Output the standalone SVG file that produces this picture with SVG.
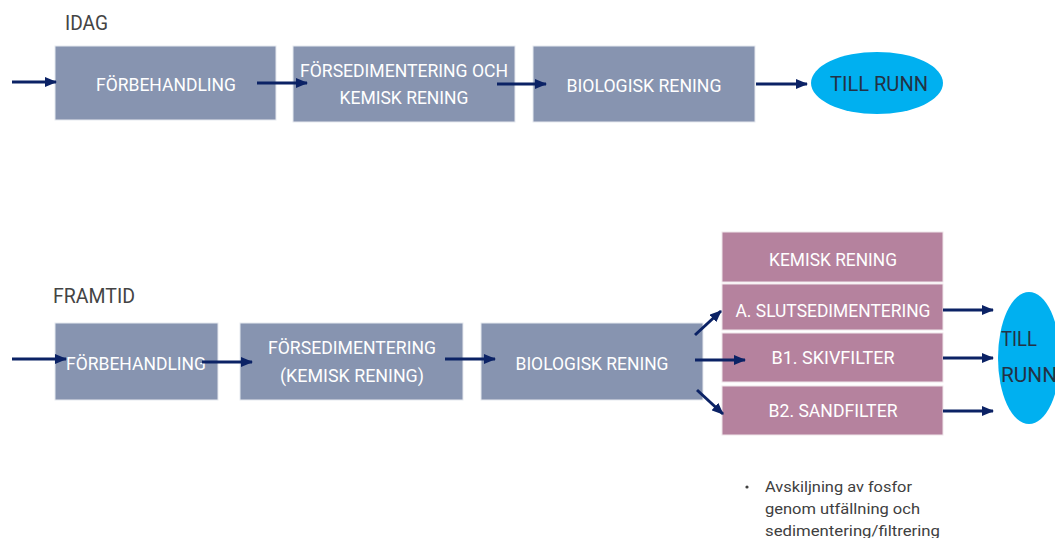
<svg xmlns="http://www.w3.org/2000/svg" width="1055" height="538" viewBox="0 0 1055 538">
<defs>
<style>
.box{fill:#8794b0;stroke:#e6e9ef;stroke-width:1}
.pink{fill:#b5829e;stroke:#efe6ea;stroke-width:1}
.t{font-family:Roboto,"Liberation Sans",sans-serif;font-size:19px;fill:#ffffff;text-anchor:middle}
.lbl{font-family:Roboto,"Liberation Sans",sans-serif;font-size:20px;fill:#444444}
.dark{font-family:Roboto,"Liberation Sans",sans-serif;font-size:21px;fill:#233245}
.note{font-family:Roboto,"Liberation Sans",sans-serif;font-size:15.5px;fill:#404040}
.ell{fill:#00b0f0}
.c{stroke:#0b2265;stroke-width:3;fill:none;marker-end:url(#ah)}
</style>
<marker id="ah" markerUnits="userSpaceOnUse" markerWidth="12" markerHeight="10" refX="11" refY="5" orient="auto">
<path d="M0,0 L12,5 L0,10 z" fill="#0b2265"/>
</marker>
</defs>
<rect width="1055" height="538" fill="#ffffff"/>
<text class="lbl" x="65" y="30" textLength="43" lengthAdjust="spacingAndGlyphs">IDAG</text>
<text class="lbl" x="53" y="303" textLength="82" lengthAdjust="spacingAndGlyphs">FRAMTID</text>

<g id="n-idag-forbehandling">
<rect class="box" x="55" y="46" width="221" height="74"/>
<text class="t" x="166" y="91" textLength="140" lengthAdjust="spacingAndGlyphs">FÖRBEHANDLING</text>
</g>
<g id="n-idag-forsed">
<rect class="box" x="293" y="46" width="222" height="76"/>
<text class="t" x="404" y="77" textLength="208" lengthAdjust="spacingAndGlyphs">FÖRSEDIMENTERING OCH</text>
<text class="t" x="404" y="104" textLength="129" lengthAdjust="spacingAndGlyphs">KEMISK RENING</text>
</g>
<g id="n-idag-bio">
<rect class="box" x="533" y="46" width="222" height="76"/>
<text class="t" x="644" y="92" textLength="155" lengthAdjust="spacingAndGlyphs">BIOLOGISK RENING</text>
</g>
<g id="n-idag-till">
<ellipse class="ell" cx="877" cy="83" rx="66" ry="31"/>
<text class="dark" x="879" y="91" text-anchor="middle" textLength="98" lengthAdjust="spacingAndGlyphs">TILL RUNN</text>
</g>

<g id="n-fram-forbehandling">
<rect class="box" x="55" y="323" width="163" height="77"/>
<text class="t" x="136" y="370" textLength="140" lengthAdjust="spacingAndGlyphs">FÖRBEHANDLING</text>
</g>
<g id="n-fram-forsed">
<rect class="box" x="240" y="323" width="223" height="77"/>
<text class="t" x="352" y="354" textLength="168" lengthAdjust="spacingAndGlyphs">FÖRSEDIMENTERING</text>
<text class="t" x="352" y="382" textLength="144" lengthAdjust="spacingAndGlyphs">(KEMISK RENING)</text>
</g>
<g id="n-fram-bio">
<rect class="box" x="481" y="323" width="222" height="77"/>
<text class="t" x="592" y="370" textLength="153" lengthAdjust="spacingAndGlyphs">BIOLOGISK RENING</text>
</g>
<g id="n-kemisk">
<rect class="pink" x="722" y="232" width="221" height="50"/>
<text class="t" x="833" y="266" textLength="128" lengthAdjust="spacingAndGlyphs">KEMISK RENING</text>
</g>
<g id="n-slutsed">
<rect class="pink" x="722" y="284" width="221" height="46"/>
<text class="t" x="833" y="317" textLength="195" lengthAdjust="spacingAndGlyphs">A. SLUTSEDIMENTERING</text>
</g>
<g id="n-skivfilter">
<rect class="pink" x="722" y="333" width="221" height="49"/>
<text class="t" x="833" y="364" textLength="123" lengthAdjust="spacingAndGlyphs">B1. SKIVFILTER</text>
</g>
<g id="n-sandfilter">
<rect class="pink" x="722" y="386" width="221" height="49"/>
<text class="t" x="833" y="417" textLength="129" lengthAdjust="spacingAndGlyphs">B2. SANDFILTER</text>
</g>
<g id="n-fram-till">
<ellipse class="ell" cx="1029" cy="358" rx="31" ry="66"/>
<text class="dark" x="1001" y="346" textLength="36" lengthAdjust="spacingAndGlyphs">TILL</text>
<text class="dark" x="1001" y="382" textLength="56" lengthAdjust="spacingAndGlyphs">RUNN</text>
</g>

<g id="connectors">
<line class="c" x1="12" y1="82" x2="56" y2="82"/>
<line class="c" x1="257" y1="83" x2="307" y2="83"/>
<line class="c" x1="497" y1="84" x2="546" y2="84"/>
<line class="c" x1="756" y1="84" x2="807" y2="84"/>
<line class="c" x1="12" y1="359" x2="66" y2="359"/>
<line class="c" x1="202" y1="362" x2="252" y2="362"/>
<line class="c" x1="445" y1="359" x2="495" y2="359"/>
<line class="c" x1="695" y1="335" x2="721" y2="311"/>
<line class="c" x1="695" y1="360" x2="745" y2="360"/>
<line class="c" x1="697" y1="390" x2="723" y2="414"/>
<line class="c" x1="943" y1="310" x2="993" y2="310"/>
<line class="c" x1="943" y1="358" x2="993" y2="358"/>
<line class="c" x1="943" y1="411" x2="993" y2="411"/>
</g>

<g id="note">
<circle cx="747" cy="487" r="1.6" fill="#404040"/>
<text class="note" x="765" y="492" textLength="147" lengthAdjust="spacingAndGlyphs">Avskiljning av fosfor</text>
<text class="note" x="765" y="514" textLength="155" lengthAdjust="spacingAndGlyphs">genom utfällning och</text>
<text class="note" x="765" y="536" textLength="175" lengthAdjust="spacingAndGlyphs">sedimentering/filtrering</text>
</g>
</svg>
